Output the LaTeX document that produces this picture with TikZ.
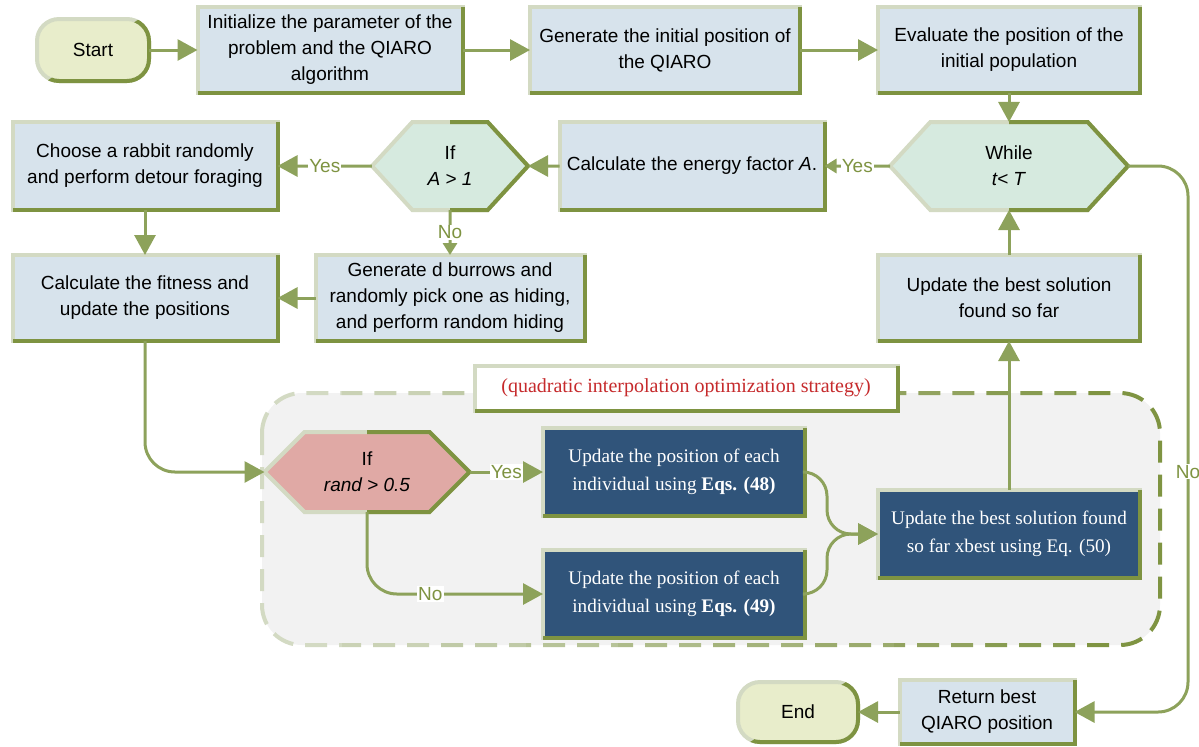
\documentclass[tikz,border=0pt]{standalone}
\usepackage{fontspec}
\setmainfont{Liberation Sans}
\newfontfamily\serifface{Liberation Serif}
\usetikzlibrary{arrows.meta,calc,shapes.symbols}

\definecolor{boxfill}{HTML}{D7E3EC}
\definecolor{hexfill}{HTML}{D6EADF}
\definecolor{termfill}{HTML}{E8EDCB}
\definecolor{pinkfill}{HTML}{E0A9A5}
\definecolor{navyfill}{HTML}{30547A}
\definecolor{rimlight}{HTML}{D3DAC3}
\definecolor{rimdark}{HTML}{7E9341}
\definecolor{sage}{HTML}{8DA25B}
\definecolor{regionfill}{HTML}{F2F2F2}
\definecolor{redtext}{HTML}{C62A2C}

\tikzset{
	box/.style={draw=rimlight, line width=2pt, fill=boxfill, outer sep=0pt, inner sep=2pt, align=center,
		font=\fontsize{9.5}{13}\selectfont, minimum width=131pt, minimum height=43pt},
	navybox/.style={box, fill=navyfill, text=white, font=\serifface\fontsize{9.6}{14}\selectfont},
	hexa/.style={box, shape=signal, signal to=west and east, signal pointer angle=95, fill=hexfill},
	term/.style={box, rounded corners=11pt, fill=termfill, minimum width=56pt, minimum height=31pt},
	arr/.style={sage, line width=1.5pt, -{Triangle[length=10pt,width=10.5pt]}},
	arrs/.style={sage, line width=1.5pt, -{Triangle[length=6pt,width=7pt]}},
	lbl/.style={sharp corners, fill=white, text=rimdark, inner sep=0.5pt, font=\fontsize{9.5}{11}\selectfont},
}

\begin{document}
\begin{tikzpicture}[x=0.5pt, y=-0.5pt]
	\useasboundingbox (0,0) rectangle (1199,746);

	% the QI region, its dashed rim fading from pale to olive
	\fill[regionfill, rounded corners=20pt] (262,393) rectangle (1160,645);
	\foreach \i in {0,...,9} {
		\pgfmathtruncatemacro\mix{\i*11}
		\begin{scope}
			\clip (250+\i*92,370) rectangle (342+\i*92,670);
			\draw[rimdark!\mix!rimlight, line width=2pt, dash pattern=on 11pt off 6pt, rounded corners=20pt]
				(262,393) rectangle (1160,645);
		\end{scope}
	}

	% first row
	\node[term] (start) at (93,50) {Start};
	\node[box, minimum width=132.5pt] (init) at (330,50) {Initialize the parameter of the\\problem and the QIARO\\algorithm};
	\node[box, minimum width=135pt] (gen) at (665,50) {Generate the initial position of\\the QIARO};
	\node[box] (eval) at (1009,50) {Evaluate the position of the\\initial population};

	% second row
	\node[box, minimum width=132.5pt, minimum height=44pt] (choose) at (145,166) {Choose a rabbit randomly\\and perform detour foraging};
	\node[hexa, minimum width=78pt, minimum height=44pt] (ifa) at (450,166) {If\\\textit{A > 1}};
	\node[box, minimum width=132.5pt, minimum height=44pt] (energy) at (692,166) {Calculate the energy factor \textit{A}.};
	\node[hexa, minimum width=119pt, minimum height=44pt] (whl) at (1009,166) {While\\\textit{t< T}};

	% third row
	\node[box, minimum width=132.5pt] (fit) at (145,298) {Calculate the fitness and\\update the positions};
	\node[box, minimum width=134.5pt] (burrow) at (450,298) {Generate d burrows and\\randomly pick one as hiding,\\and perform random hiding};
	\node[box] (best) at (1009,298) {Update the best solution\\found so far};

	% inside the QI region
	\node[box, fill=white, text=redtext, minimum width=211.5pt, minimum height=22.5pt,
		font=\serifface\fontsize{10}{12}\selectfont] (strat) at (686,388) {(quadratic interpolation optimization strategy)};
	\node[hexa, fill=pinkfill, minimum width=102.5pt, minimum height=40pt, signal pointer angle=90] (rand) at (367,472) {If\\\textit{rand > 0.5}};
	\node[navybox, minimum height=44pt] (eqa) at (674,472) {Update the position of each\\individual using \textbf{Eqs. (48)}};
	\node[navybox, minimum height=44pt] (eqb) at (674,594) {Update the position of each\\individual using \textbf{Eqs. (49)}};
	\node[navybox, minimum height=44pt] (final) at (1009,534) {Update the best solution found\\so far xbest using Eq. (50)};

	% last row
	\node[box, minimum width=87.5pt, minimum height=32pt] (ret) at (987,712) {Return best\\QIARO position};
	\node[term, minimum width=60pt, minimum height=30pt] (endn) at (798,712) {End};

	% darker rims on the right and lower sides
	\foreach \n in {init,gen,eval,choose,energy,fit,burrow,best,strat,eqa,eqb,final,ret}
		\draw[rimdark, line width=2pt] (\n.north east) -- (\n.south east) -- (\n.south west);
	\foreach \n in {ifa,whl,rand}
		\draw[rimdark, line width=2pt] (\n.north) -- (\n.north east) -- (\n.east) -- (\n.south east) -- (\n.south);
	\foreach \n in {start,endn} {
		\begin{scope}
			\clip ($(\n.north east)+(20,-20)$) -- ($(\n.south west)+(-20,20)$) -- ($(\n.south east)+(20,20)$) -- cycle;
			\draw[rimdark, line width=2pt, rounded corners=11pt] (\n.north west) rectangle (\n.south east);
		\end{scope}
	}

	% connectors
	\draw[arr] (start) -- (init);
	\draw[arr] (init) -- (gen);
	\draw[arr] (gen) -- (eval);
	\draw[arr] (eval) -- (whl);
	\draw[arrs] (whl) -- node[lbl] {Yes} (energy);
	\draw[arr] (energy) -- (ifa);
	\draw[arr] (ifa) -- node[lbl] {Yes} (choose);
	\draw[arrs] (ifa) -- node[lbl] {No} (burrow);
	\draw[arr] (choose) -- (fit);
	\draw[arr] (burrow) -- (fit);
	\draw[arr, rounded corners=15pt] (fit) |- (rand);
	\draw[arr] (rand) -- node[lbl] {Yes} (eqa);
	\draw[arr, rounded corners=15pt] (rand) |- node[lbl, pos=0.68] {No} (eqb);
	\draw[arr, rounded corners=12pt] (eqa.east) -- ++(22,0) |- (final.west);
	\draw[arr, rounded corners=12pt] (eqb.east) -- ++(22,0) |- (final.west);
	\draw[arr] (final) -- (best);
	\draw[arr] (best) -- (whl);
	\draw[arr, rounded corners=15pt] (whl.east) -- ++(60,0) |- node[lbl, pos=0.28] {No} (ret.east);
	\draw[arr] (ret) -- (endn);
\end{tikzpicture}
\end{document}
